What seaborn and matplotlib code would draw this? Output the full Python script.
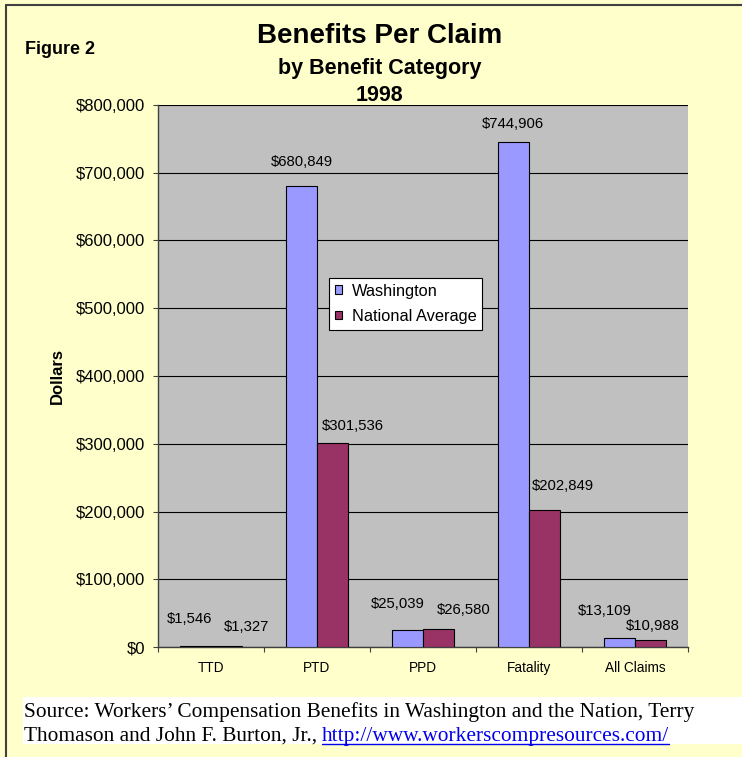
import pandas as pd
import matplotlib.pyplot as plt
import matplotlib.patches as mpatches
from matplotlib.ticker import FuncFormatter
import seaborn as sns

# data
categories = ["TTD", "PTD", "PPD", "Fatality", "All Claims"]
washington = [1546, 680849, 25039, 744906, 13109]
national = [1327, 301536, 26580, 202849, 10988]
series_names = ["Washington", "National Average"]
yticks = [0, 100000, 200000, 300000, 400000, 500000, 600000, 700000, 800000]

# label nudges (pixels) - Excel spreads the data labels a bit
wa_label_dx = [-6, 0, -10, -1, -15]
wa_label_dy = [27, 24, 26, 18, 27]
na_label_dx = [20, 20, 25, 19, 2]
na_label_dy = [19, 17, 19, 24, 14]

df = pd.DataFrame({
    "category": categories * 2,
    "series": [series_names[0]] * 5 + [series_names[1]] * 5,
    "value": washington + national,
})

sns.set_style("white")
plt.rcParams["font.family"] = ["Liberation Sans", "DejaVu Sans"]
for k in ["text.color", "axes.labelcolor", "xtick.color", "ytick.color"]:
    plt.rcParams[k] = "black"

fig = plt.figure(figsize=(7.42, 7.57), dpi=100)
fig.patch.set_facecolor("#FFFFCC")

# frame lines on left/top
fig.add_artist(plt.Line2D([0.0075, 0.0075], [0, 0.993], color="#404040", lw=1.5, transform=fig.transFigure))
fig.add_artist(plt.Line2D([0.0075, 1.0], [0.993, 0.993], color="#404040", lw=1.5, transform=fig.transFigure))

ax = fig.add_axes([0.2129, 0.1453, 0.7143, 0.716])
ax.set_facecolor("#C0C0C0")

palette = {"Washington": "#9999FF", "National Average": "#993366"}
sns.barplot(data=df, x="category", y="value", hue="series", palette=palette,
            order=categories, hue_order=series_names, width=0.58, saturation=1,
            edgecolor="black", linewidth=0.8, ax=ax, zorder=3)

ax.set_ylim(0, 800000)
ax.set_xlim(-0.5, 4.5)
ax.set_yticks(yticks)
ax.yaxis.set_major_formatter(FuncFormatter(lambda v, p: f"${v:,.0f}"))
ax.grid(axis="y", color="black", lw=0.8, zorder=0)
ax.set_axisbelow(True)

for s in ["top", "right"]:
    ax.spines[s].set_visible(False)
for s in ["left", "bottom"]:
    ax.spines[s].set_color("#404040")
    ax.spines[s].set_linewidth(1.0)

ax.tick_params(axis="y", length=3.6, width=0.8, color="#404040", labelsize=12, pad=5.8, left=True)
ax.set_xticks(range(len(categories)))
ax.set_xticklabels(categories, fontsize=9.8)
ax.tick_params(axis="x", length=0, pad=10)
# ticks between categories
ax.set_xticks([i - 0.5 for i in range(len(categories) + 1)], minor=True)
ax.tick_params(axis="x", which="minor", length=3.6, width=0.8, color="#404040", bottom=True)

ax.set_xlabel("")
ax.set_ylabel("Dollars", fontsize=12, fontweight="bold", labelpad=8)

# value labels
label_vals = (washington, national)
label_dx = (wa_label_dx, na_label_dx)
label_dy = (wa_label_dy, na_label_dy)
for i, cont in enumerate(ax.containers):
    for j, bar in enumerate(cont):
        ax.annotate(f"${label_vals[i][j]:,.0f}",
                    (bar.get_x() + bar.get_width() / 2, bar.get_height()),
                    xytext=(label_dx[i][j], label_dy[i][j]), textcoords="offset pixels",
                    ha="center", va="center", fontsize=10.7)

leg = ax.legend(loc="upper left", bbox_to_anchor=(0.3226, 0.681), frameon=True, fancybox=False,
                edgecolor="black", facecolor="white", framealpha=1, fontsize=11.8,
                handlelength=0.45, handleheight=0.45, handletextpad=0.6, borderpad=0.35,
                labelspacing=0.62, borderaxespad=0)
leg.get_frame().set_linewidth(0.8)
for h in leg.legend_handles:
    h.set_edgecolor("black")

fig.text(0.512, 0.952, "Benefits Per Claim", ha="center", va="center", fontsize=20, fontweight="bold")
fig.text(0.512, 0.910, "by Benefit Category", ha="center", va="center", fontsize=15.5, fontweight="bold")
fig.text(0.512, 0.8745, "1998", ha="center", va="center", fontsize=15.5, fontweight="bold")
fig.text(0.034, 0.934, "Figure 2", ha="left", va="center", fontsize=13, fontweight="bold")

# source box
fig.add_artist(mpatches.Rectangle((0.031, 0.0172), 0.969, 0.062, transform=fig.transFigure,
                                  facecolor="white", edgecolor="none"))
fig.text(0.032, 0.0528, "Source: Workers\u2019 Compensation Benefits in Washington and the Nation, Terry",
         ha="left", va="baseline", fontsize=15.4, family="Liberation Serif")
t = fig.text(0.032, 0.0211, "Thomason and John F. Burton, Jr., ", ha="left", va="baseline",
             fontsize=15.4, family="Liberation Serif")
fig.canvas.draw()
renderer = fig.canvas.get_renderer()
bb = t.get_window_extent(renderer).transformed(fig.transFigure.inverted())
link = fig.text(bb.x1, 0.0211, "http://www.workerscompresources.com/", ha="left", va="baseline",
                fontsize=15.4, family="Liberation Serif", color="#0000EE")
lb = link.get_window_extent(renderer).transformed(fig.transFigure.inverted())
fig.add_artist(plt.Line2D([lb.x0, lb.x1], [0.0178, 0.0178], color="#0000EE", lw=1.0,
                          transform=fig.transFigure))

fig.savefig("out.png", dpi=100, facecolor=fig.get_facecolor())
